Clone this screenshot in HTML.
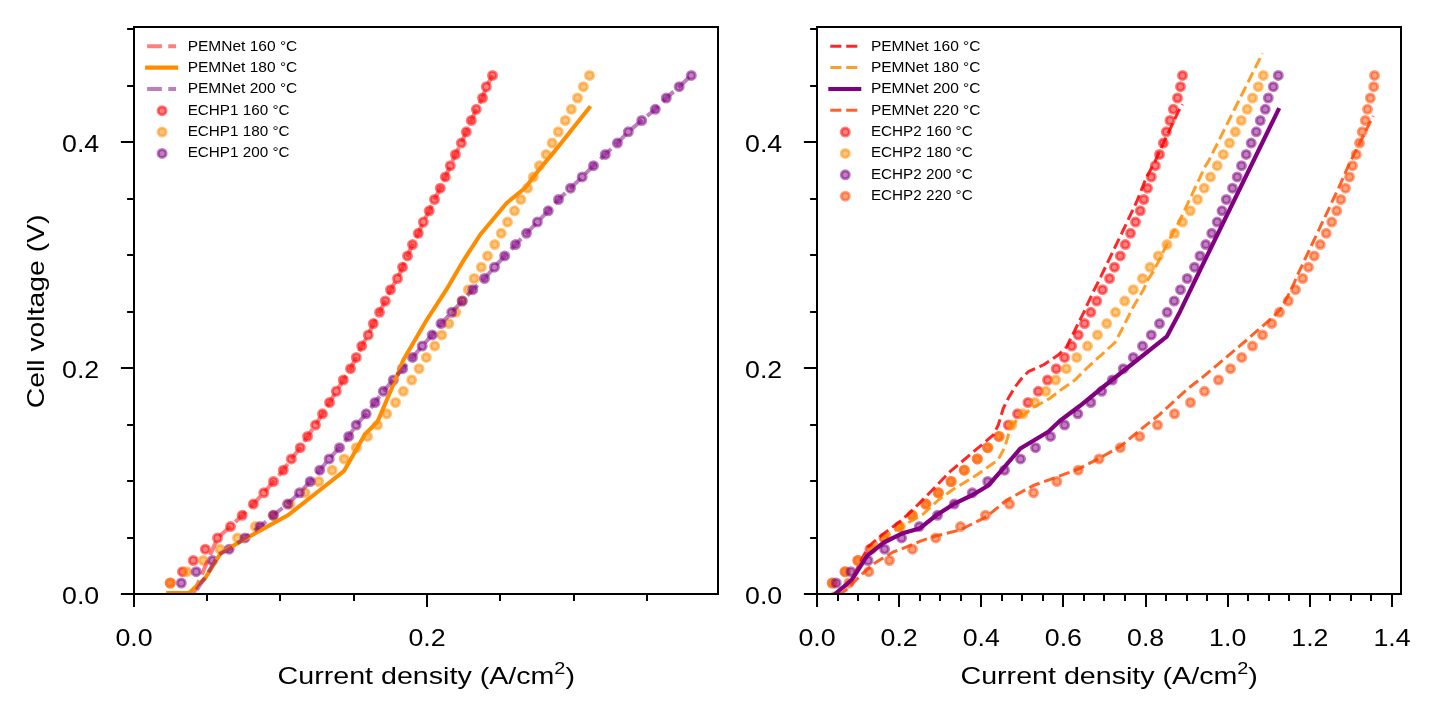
<!DOCTYPE html>
<html lang="en"><head><meta charset="utf-8"><title>Polarization curves</title>
<style>html,body{margin:0;padding:0;background:#fff;}body{width:1440px;height:720px;overflow:hidden;font-family:"Liberation Sans",sans-serif;}svg{display:block;will-change:transform;}</style></head>
<body>
<svg width="1440" height="720" viewBox="0 0 1440 720" font-family="'Liberation Sans', sans-serif" fill="#000">
<rect width="1440" height="720" fill="#fff"/>
<clipPath id="cl"><rect x="134.0" y="27" width="584.0" height="567.0"/></clipPath>
<g clip-path="url(#cl)">
<g fill="#ff0000" fill-opacity=".5" stroke="#ff0000" stroke-opacity=".5" stroke-width="3.0">
<circle cx="170.3" cy="583.0" r="4.0"/><circle cx="182.5" cy="571.7" r="4.0"/><circle cx="193.3" cy="560.5" r="4.0"/><circle cx="205.3" cy="549.2" r="4.0"/><circle cx="217.5" cy="537.9" r="4.0"/><circle cx="230.5" cy="526.6" r="4.0"/><circle cx="242.2" cy="515.3" r="4.0"/><circle cx="253.3" cy="504.1" r="4.0"/><circle cx="263.8" cy="492.8" r="4.0"/><circle cx="273.5" cy="481.5" r="4.0"/><circle cx="283.3" cy="470.2" r="4.0"/><circle cx="291.3" cy="458.9" r="4.0"/><circle cx="300.3" cy="447.7" r="4.0"/><circle cx="307.5" cy="436.4" r="4.0"/><circle cx="315.5" cy="425.1" r="4.0"/><circle cx="322.5" cy="413.8" r="4.0"/><circle cx="329.5" cy="402.5" r="4.0"/><circle cx="336.3" cy="391.3" r="4.0"/><circle cx="343.3" cy="380.0" r="4.0"/><circle cx="350.5" cy="368.7" r="4.0"/><circle cx="356.3" cy="357.4" r="4.0"/><circle cx="361.7" cy="346.1" r="4.0"/><circle cx="368.3" cy="334.9" r="4.0"/><circle cx="373.3" cy="323.6" r="4.0"/><circle cx="379.5" cy="312.3" r="4.0"/><circle cx="385.3" cy="301.0" r="4.0"/><circle cx="390.5" cy="289.7" r="4.0"/><circle cx="397.5" cy="278.5" r="4.0"/><circle cx="402.5" cy="267.2" r="4.0"/><circle cx="407.5" cy="255.9" r="4.0"/><circle cx="412.5" cy="244.6" r="4.0"/><circle cx="418.3" cy="233.3" r="4.0"/><circle cx="423.3" cy="222.1" r="4.0"/><circle cx="429.2" cy="210.8" r="4.0"/><circle cx="434.5" cy="199.5" r="4.0"/><circle cx="440.3" cy="188.2" r="4.0"/><circle cx="445.3" cy="176.9" r="4.0"/><circle cx="450.3" cy="165.7" r="4.0"/><circle cx="455.4" cy="154.4" r="4.0"/><circle cx="461.3" cy="143.1" r="4.0"/><circle cx="466.3" cy="131.8" r="4.0"/><circle cx="471.3" cy="120.5" r="4.0"/><circle cx="476.3" cy="109.3" r="4.0"/><circle cx="482.5" cy="98.0" r="4.0"/><circle cx="486.3" cy="86.7" r="4.0"/><circle cx="492.5" cy="75.4" r="4.0"/>
</g>
<g fill="#ff8c00" fill-opacity=".5" stroke="#ff8c00" stroke-opacity=".5" stroke-width="3.0">
<circle cx="170.3" cy="583.0" r="4.0"/><circle cx="186.7" cy="571.7" r="4.0"/><circle cx="203.3" cy="560.5" r="4.0"/><circle cx="220.0" cy="549.2" r="4.0"/><circle cx="237.5" cy="537.9" r="4.0"/><circle cx="255.3" cy="526.6" r="4.0"/><circle cx="273.3" cy="515.3" r="4.0"/><circle cx="290.0" cy="504.1" r="4.0"/><circle cx="305.0" cy="492.8" r="4.0"/><circle cx="318.7" cy="481.5" r="4.0"/><circle cx="332.2" cy="470.2" r="4.0"/><circle cx="344.2" cy="458.9" r="4.0"/><circle cx="356.3" cy="447.7" r="4.0"/><circle cx="367.5" cy="436.4" r="4.0"/><circle cx="377.5" cy="425.1" r="4.0"/><circle cx="386.7" cy="413.8" r="4.0"/><circle cx="395.5" cy="402.5" r="4.0"/><circle cx="403.3" cy="391.3" r="4.0"/><circle cx="411.7" cy="380.0" r="4.0"/><circle cx="419.0" cy="368.7" r="4.0"/><circle cx="426.3" cy="357.4" r="4.0"/><circle cx="434.7" cy="346.1" r="4.0"/><circle cx="441.7" cy="334.9" r="4.0"/><circle cx="448.8" cy="323.6" r="4.0"/><circle cx="455.8" cy="312.3" r="4.0"/><circle cx="462.2" cy="301.0" r="4.0"/><circle cx="468.3" cy="289.7" r="4.0"/><circle cx="474.2" cy="278.5" r="4.0"/><circle cx="481.3" cy="267.2" r="4.0"/><circle cx="487.5" cy="255.9" r="4.0"/><circle cx="494.7" cy="244.6" r="4.0"/><circle cx="501.2" cy="233.3" r="4.0"/><circle cx="507.5" cy="222.1" r="4.0"/><circle cx="514.5" cy="210.8" r="4.0"/><circle cx="520.8" cy="199.5" r="4.0"/><circle cx="527.5" cy="188.2" r="4.0"/><circle cx="533.3" cy="176.9" r="4.0"/><circle cx="539.4" cy="165.7" r="4.0"/><circle cx="546.2" cy="154.4" r="4.0"/><circle cx="552.2" cy="143.1" r="4.0"/><circle cx="558.3" cy="131.8" r="4.0"/><circle cx="565.3" cy="120.5" r="4.0"/><circle cx="571.3" cy="109.3" r="4.0"/><circle cx="577.5" cy="98.0" r="4.0"/><circle cx="583.3" cy="86.7" r="4.0"/><circle cx="589.5" cy="75.4" r="4.0"/>
</g>
<g fill="#800080" fill-opacity=".5" stroke="#800080" stroke-opacity=".5" stroke-width="3.0">
<circle cx="181.3" cy="583.0" r="4.0"/><circle cx="196.2" cy="571.7" r="4.0"/><circle cx="212.5" cy="560.5" r="4.0"/><circle cx="229.2" cy="549.2" r="4.0"/><circle cx="245.0" cy="537.9" r="4.0"/><circle cx="260.0" cy="526.6" r="4.0"/><circle cx="273.3" cy="515.3" r="4.0"/><circle cx="287.5" cy="504.1" r="4.0"/><circle cx="299.5" cy="492.8" r="4.0"/><circle cx="310.2" cy="481.5" r="4.0"/><circle cx="319.7" cy="470.2" r="4.0"/><circle cx="329.2" cy="458.9" r="4.0"/><circle cx="339.5" cy="447.7" r="4.0"/><circle cx="348.7" cy="436.4" r="4.0"/><circle cx="356.2" cy="425.1" r="4.0"/><circle cx="366.2" cy="413.8" r="4.0"/><circle cx="375.0" cy="402.5" r="4.0"/><circle cx="383.3" cy="391.3" r="4.0"/><circle cx="393.3" cy="380.0" r="4.0"/><circle cx="402.6" cy="368.7" r="4.0"/><circle cx="412.5" cy="357.4" r="4.0"/><circle cx="422.2" cy="346.1" r="4.0"/><circle cx="432.2" cy="334.9" r="4.0"/><circle cx="441.0" cy="323.6" r="4.0"/><circle cx="451.7" cy="312.3" r="4.0"/><circle cx="462.2" cy="301.0" r="4.0"/><circle cx="472.8" cy="289.7" r="4.0"/><circle cx="484.5" cy="278.5" r="4.0"/><circle cx="494.5" cy="267.2" r="4.0"/><circle cx="504.7" cy="255.9" r="4.0"/><circle cx="515.5" cy="244.6" r="4.0"/><circle cx="526.5" cy="233.3" r="4.0"/><circle cx="537.4" cy="222.1" r="4.0"/><circle cx="548.3" cy="210.8" r="4.0"/><circle cx="558.5" cy="199.5" r="4.0"/><circle cx="570.5" cy="188.2" r="4.0"/><circle cx="582.2" cy="176.9" r="4.0"/><circle cx="593.5" cy="165.7" r="4.0"/><circle cx="605.3" cy="154.4" r="4.0"/><circle cx="617.4" cy="143.1" r="4.0"/><circle cx="628.3" cy="131.8" r="4.0"/><circle cx="641.7" cy="120.5" r="4.0"/><circle cx="655.3" cy="109.3" r="4.0"/><circle cx="666.3" cy="98.0" r="4.0"/><circle cx="679.2" cy="86.7" r="4.0"/><circle cx="691.3" cy="75.4" r="4.0"/>
</g>
<polyline points="193.5,594.0 217.5,537.9 230.5,526.6 242.2,515.3 253.3,504.1 263.8,492.8 273.5,481.5 283.3,470.2 291.3,458.9 300.3,447.7 307.5,436.4 315.5,425.1 322.5,413.8 329.5,402.5 336.3,391.3 343.3,380.0 350.5,368.7 356.3,357.4 361.7,346.1 368.3,334.9 373.3,323.6 379.5,312.3 385.3,301.0 390.5,289.7 397.5,278.5 402.5,267.2 407.5,255.9 412.5,244.6 418.3,233.3 423.3,222.1 429.2,210.8 434.5,199.5 440.3,188.2 445.3,176.9 450.3,165.7 455.4,154.4 461.3,143.1 466.3,131.8 471.3,120.5 476.3,109.3 482.5,98.0 486.3,86.7 492.5,75.4" fill="none" stroke="#ff0000" stroke-width="4" stroke-opacity="0.5" stroke-linejoin="round" stroke-linecap="butt" stroke-dasharray="14.8 6.4"/>
<polyline points="168.3,593.0 189.0,593.0 205.0,578.5 220.8,553.0 240.0,541.7 288.3,515.0 320.0,490.0 344.2,470.8 365.0,434.2 377.5,421.7 396.7,376.7 403.3,360.0 426.7,320.0 446.7,289.2 463.3,260.8 480.0,235.0 506.7,203.0 525.0,188.0 540.0,168.5 555.0,150.8 589.2,107.8" fill="none" stroke="#ff8c00" stroke-width="4.1" stroke-opacity="1.0" stroke-linejoin="round" stroke-linecap="square"/>
<polyline points="194.0,594.0 207.5,573.5 219.0,554.5 229.2,549.2 245.0,537.9 260.0,526.6 273.3,515.3 287.5,504.1 299.5,492.8 310.2,481.5 319.7,470.2 329.2,458.9 339.5,447.7 348.7,436.4 356.2,425.1 366.2,413.8 375.0,402.5 383.3,391.3 393.3,380.0 402.6,368.7 412.5,357.4 422.2,346.1 432.2,334.9 441.0,323.6 451.7,312.3 462.2,301.0 472.8,289.7 484.5,278.5 494.5,267.2 504.7,255.9 515.5,244.6 526.5,233.3 537.4,222.1 548.3,210.8 558.5,199.5 570.5,188.2 582.2,176.9 593.5,165.7 605.3,154.4 617.4,143.1 628.3,131.8 641.7,120.5 655.3,109.3 666.3,98.0 679.2,86.7 691.3,75.4" fill="none" stroke="#800080" stroke-width="4" stroke-opacity="0.5" stroke-linejoin="round" stroke-linecap="butt" stroke-dasharray="14.8 6.4" stroke-dashoffset="16.37"/>
</g>
<g stroke="#000" stroke-width="2.0" fill="none">
<line x1="134" y1="594.0" x2="134" y2="607.0"/>
<line x1="427" y1="594.0" x2="427" y2="607.0"/>
<line x1="207" y1="594.0" x2="207" y2="600.9"/>
<line x1="280" y1="594.0" x2="280" y2="600.9"/>
<line x1="354" y1="594.0" x2="354" y2="600.9"/>
<line x1="500" y1="594.0" x2="500" y2="600.9"/>
<line x1="574" y1="594.0" x2="574" y2="600.9"/>
<line x1="647" y1="594.0" x2="647" y2="600.9"/>
<line x1="134.0" y1="594" x2="120.9" y2="594"/>
<line x1="134.0" y1="538" x2="127.1" y2="538"/>
<line x1="134.0" y1="481" x2="127.1" y2="481"/>
<line x1="134.0" y1="425" x2="127.1" y2="425"/>
<line x1="134.0" y1="368" x2="120.9" y2="368"/>
<line x1="134.0" y1="312" x2="127.1" y2="312"/>
<line x1="134.0" y1="255" x2="127.1" y2="255"/>
<line x1="134.0" y1="199" x2="127.1" y2="199"/>
<line x1="134.0" y1="142" x2="120.9" y2="142"/>
<line x1="134.0" y1="86" x2="127.1" y2="86"/>
<line x1="134.0" y1="29" x2="127.1" y2="29"/>
</g>
<rect x="134.0" y="27.0" width="584.0" height="567.0" fill="none" stroke="#000" stroke-width="2.0"/>
<text x="134.0" y="645.5" font-size="24.5" text-anchor="middle" textLength="37.2" lengthAdjust="spacingAndGlyphs">0.0</text>
<text x="427.0" y="645.5" font-size="24.5" text-anchor="middle" textLength="37.2" lengthAdjust="spacingAndGlyphs">0.2</text>
<text x="99.2" y="603.9" font-size="24.5" text-anchor="end" textLength="37.2" lengthAdjust="spacingAndGlyphs">0.0</text>
<text x="99.2" y="377.9" font-size="24.5" text-anchor="end" textLength="37.2" lengthAdjust="spacingAndGlyphs">0.2</text>
<text x="99.2" y="151.9" font-size="24.5" text-anchor="end" textLength="37.2" lengthAdjust="spacingAndGlyphs">0.4</text>
<clipPath id="cr"><rect x="817.0" y="27" width="584.0" height="567.0"/></clipPath>
<g clip-path="url(#cr)">
<g fill="#ff0000" fill-opacity=".5" stroke="#ff0000" stroke-opacity=".5" stroke-width="3.0">
<circle cx="832.3" cy="583.0" r="4.0"/><circle cx="845.0" cy="571.7" r="4.0"/><circle cx="857.8" cy="560.5" r="4.0"/><circle cx="870.0" cy="549.2" r="4.0"/><circle cx="884.0" cy="537.9" r="4.0"/><circle cx="899.0" cy="526.6" r="4.0"/><circle cx="912.0" cy="515.3" r="4.0"/><circle cx="925.8" cy="504.1" r="4.0"/><circle cx="938.3" cy="492.8" r="4.0"/><circle cx="951.0" cy="481.5" r="4.0"/><circle cx="964.2" cy="470.2" r="4.0"/><circle cx="977.2" cy="458.9" r="4.0"/><circle cx="987.5" cy="447.7" r="4.0"/><circle cx="998.8" cy="436.4" r="4.0"/><circle cx="1008.3" cy="425.1" r="4.0"/><circle cx="1017.5" cy="413.8" r="4.0"/><circle cx="1028.0" cy="402.5" r="4.0"/><circle cx="1038.3" cy="391.3" r="4.0"/><circle cx="1047.5" cy="380.0" r="4.0"/><circle cx="1056.2" cy="368.7" r="4.0"/><circle cx="1064.5" cy="357.4" r="4.0"/><circle cx="1071.7" cy="346.1" r="4.0"/><circle cx="1078.3" cy="334.9" r="4.0"/><circle cx="1084.5" cy="323.6" r="4.0"/><circle cx="1090.8" cy="312.3" r="4.0"/><circle cx="1096.7" cy="301.0" r="4.0"/><circle cx="1102.5" cy="289.7" r="4.0"/><circle cx="1109.5" cy="278.5" r="4.0"/><circle cx="1114.5" cy="267.2" r="4.0"/><circle cx="1120.3" cy="255.9" r="4.0"/><circle cx="1125.3" cy="244.6" r="4.0"/><circle cx="1130.5" cy="233.3" r="4.0"/><circle cx="1135.5" cy="222.1" r="4.0"/><circle cx="1140.3" cy="210.8" r="4.0"/><circle cx="1143.8" cy="199.5" r="4.0"/><circle cx="1147.5" cy="188.2" r="4.0"/><circle cx="1151.3" cy="176.9" r="4.0"/><circle cx="1155.3" cy="165.7" r="4.0"/><circle cx="1159.5" cy="154.4" r="4.0"/><circle cx="1163.3" cy="143.1" r="4.0"/><circle cx="1166.3" cy="131.8" r="4.0"/><circle cx="1170.0" cy="120.5" r="4.0"/><circle cx="1173.3" cy="109.3" r="4.0"/><circle cx="1177.5" cy="98.0" r="4.0"/><circle cx="1180.5" cy="86.7" r="4.0"/><circle cx="1182.5" cy="75.4" r="4.0"/>
</g>
<g fill="#ff8c00" fill-opacity=".5" stroke="#ff8c00" stroke-opacity=".5" stroke-width="3.0">
<circle cx="832.3" cy="583.0" r="4.0"/><circle cx="845.5" cy="571.7" r="4.0"/><circle cx="858.3" cy="560.5" r="4.0"/><circle cx="872.0" cy="549.2" r="4.0"/><circle cx="886.0" cy="537.9" r="4.0"/><circle cx="900.5" cy="526.6" r="4.0"/><circle cx="912.5" cy="515.3" r="4.0"/><circle cx="926.0" cy="504.1" r="4.0"/><circle cx="938.5" cy="492.8" r="4.0"/><circle cx="951.3" cy="481.5" r="4.0"/><circle cx="964.5" cy="470.2" r="4.0"/><circle cx="977.5" cy="458.9" r="4.0"/><circle cx="988.0" cy="447.7" r="4.0"/><circle cx="999.5" cy="436.4" r="4.0"/><circle cx="1011.7" cy="425.1" r="4.0"/><circle cx="1022.8" cy="413.8" r="4.0"/><circle cx="1034.7" cy="402.5" r="4.0"/><circle cx="1045.8" cy="391.3" r="4.0"/><circle cx="1055.6" cy="380.0" r="4.0"/><circle cx="1066.3" cy="368.7" r="4.0"/><circle cx="1076.7" cy="357.4" r="4.0"/><circle cx="1087.5" cy="346.1" r="4.0"/><circle cx="1097.5" cy="334.9" r="4.0"/><circle cx="1106.7" cy="323.6" r="4.0"/><circle cx="1115.5" cy="312.3" r="4.0"/><circle cx="1124.7" cy="301.0" r="4.0"/><circle cx="1133.3" cy="289.7" r="4.0"/><circle cx="1142.5" cy="278.5" r="4.0"/><circle cx="1150.0" cy="267.2" r="4.0"/><circle cx="1158.3" cy="255.9" r="4.0"/><circle cx="1167.0" cy="244.6" r="4.0"/><circle cx="1174.5" cy="233.3" r="4.0"/><circle cx="1182.5" cy="222.1" r="4.0"/><circle cx="1190.3" cy="210.8" r="4.0"/><circle cx="1197.5" cy="199.5" r="4.0"/><circle cx="1204.2" cy="188.2" r="4.0"/><circle cx="1210.5" cy="176.9" r="4.0"/><circle cx="1217.2" cy="165.7" r="4.0"/><circle cx="1223.3" cy="154.4" r="4.0"/><circle cx="1229.5" cy="143.1" r="4.0"/><circle cx="1235.3" cy="131.8" r="4.0"/><circle cx="1241.2" cy="120.5" r="4.0"/><circle cx="1247.2" cy="109.3" r="4.0"/><circle cx="1252.5" cy="98.0" r="4.0"/><circle cx="1258.3" cy="86.7" r="4.0"/><circle cx="1263.3" cy="75.4" r="4.0"/>
</g>
<g fill="#800080" fill-opacity=".5" stroke="#800080" stroke-opacity=".5" stroke-width="3.0">
<circle cx="836.2" cy="583.0" r="4.0"/><circle cx="850.9" cy="571.7" r="4.0"/><circle cx="868.0" cy="560.5" r="4.0"/><circle cx="884.6" cy="549.2" r="4.0"/><circle cx="901.6" cy="537.9" r="4.0"/><circle cx="919.3" cy="526.6" r="4.0"/><circle cx="937.5" cy="515.3" r="4.0"/><circle cx="954.2" cy="504.1" r="4.0"/><circle cx="972.3" cy="492.8" r="4.0"/><circle cx="987.7" cy="481.5" r="4.0"/><circle cx="1004.5" cy="470.2" r="4.0"/><circle cx="1020.5" cy="458.9" r="4.0"/><circle cx="1035.5" cy="447.7" r="4.0"/><circle cx="1050.5" cy="436.4" r="4.0"/><circle cx="1064.6" cy="425.1" r="4.0"/><circle cx="1077.8" cy="413.8" r="4.0"/><circle cx="1090.8" cy="402.5" r="4.0"/><circle cx="1101.7" cy="391.3" r="4.0"/><circle cx="1112.3" cy="380.0" r="4.0"/><circle cx="1123.3" cy="368.7" r="4.0"/><circle cx="1133.3" cy="357.4" r="4.0"/><circle cx="1142.5" cy="346.1" r="4.0"/><circle cx="1151.3" cy="334.9" r="4.0"/><circle cx="1159.5" cy="323.6" r="4.0"/><circle cx="1167.2" cy="312.3" r="4.0"/><circle cx="1174.2" cy="301.0" r="4.0"/><circle cx="1180.5" cy="289.7" r="4.0"/><circle cx="1187.2" cy="278.5" r="4.0"/><circle cx="1194.5" cy="267.2" r="4.0"/><circle cx="1200.0" cy="255.9" r="4.0"/><circle cx="1205.8" cy="244.6" r="4.0"/><circle cx="1211.7" cy="233.3" r="4.0"/><circle cx="1217.2" cy="222.1" r="4.0"/><circle cx="1222.0" cy="210.8" r="4.0"/><circle cx="1226.3" cy="199.5" r="4.0"/><circle cx="1232.5" cy="188.2" r="4.0"/><circle cx="1237.2" cy="176.9" r="4.0"/><circle cx="1241.5" cy="165.7" r="4.0"/><circle cx="1246.2" cy="154.4" r="4.0"/><circle cx="1251.2" cy="143.1" r="4.0"/><circle cx="1256.3" cy="131.8" r="4.0"/><circle cx="1260.3" cy="120.5" r="4.0"/><circle cx="1265.3" cy="109.3" r="4.0"/><circle cx="1268.3" cy="98.0" r="4.0"/><circle cx="1273.3" cy="86.7" r="4.0"/><circle cx="1278.3" cy="75.4" r="4.0"/>
</g>
<g fill="#ff4500" fill-opacity=".5" stroke="#ff4500" stroke-opacity=".5" stroke-width="3.0">
<circle cx="848.9" cy="583.0" r="4.0"/><circle cx="868.8" cy="571.7" r="4.0"/><circle cx="889.5" cy="560.5" r="4.0"/><circle cx="912.5" cy="549.2" r="4.0"/><circle cx="935.7" cy="537.9" r="4.0"/><circle cx="960.5" cy="526.6" r="4.0"/><circle cx="985.4" cy="515.3" r="4.0"/><circle cx="1009.5" cy="504.1" r="4.0"/><circle cx="1033.5" cy="492.8" r="4.0"/><circle cx="1056.8" cy="481.5" r="4.0"/><circle cx="1078.2" cy="470.2" r="4.0"/><circle cx="1099.0" cy="458.9" r="4.0"/><circle cx="1120.3" cy="447.7" r="4.0"/><circle cx="1139.7" cy="436.4" r="4.0"/><circle cx="1157.5" cy="425.1" r="4.0"/><circle cx="1174.5" cy="413.8" r="4.0"/><circle cx="1190.5" cy="402.5" r="4.0"/><circle cx="1204.5" cy="391.3" r="4.0"/><circle cx="1218.5" cy="380.0" r="4.0"/><circle cx="1230.5" cy="368.7" r="4.0"/><circle cx="1241.7" cy="357.4" r="4.0"/><circle cx="1252.5" cy="346.1" r="4.0"/><circle cx="1262.5" cy="334.9" r="4.0"/><circle cx="1271.7" cy="323.6" r="4.0"/><circle cx="1279.5" cy="312.3" r="4.0"/><circle cx="1288.3" cy="301.0" r="4.0"/><circle cx="1295.5" cy="289.7" r="4.0"/><circle cx="1302.7" cy="278.5" r="4.0"/><circle cx="1308.5" cy="267.2" r="4.0"/><circle cx="1314.2" cy="255.9" r="4.0"/><circle cx="1320.3" cy="244.6" r="4.0"/><circle cx="1326.2" cy="233.3" r="4.0"/><circle cx="1331.7" cy="222.1" r="4.0"/><circle cx="1336.7" cy="210.8" r="4.0"/><circle cx="1340.8" cy="199.5" r="4.0"/><circle cx="1345.5" cy="188.2" r="4.0"/><circle cx="1349.5" cy="176.9" r="4.0"/><circle cx="1352.5" cy="165.7" r="4.0"/><circle cx="1356.3" cy="154.4" r="4.0"/><circle cx="1359.5" cy="143.1" r="4.0"/><circle cx="1362.2" cy="131.8" r="4.0"/><circle cx="1365.3" cy="120.5" r="4.0"/><circle cx="1367.5" cy="109.3" r="4.0"/><circle cx="1370.3" cy="98.0" r="4.0"/><circle cx="1373.7" cy="86.7" r="4.0"/><circle cx="1374.5" cy="75.4" r="4.0"/>
</g>
<polyline points="837.0,594.0 851.0,580.5 861.5,560.0 868.3,546.7 882.8,534.4 900.6,521.0 910.0,512.5 927.5,495.0 950.0,471.7 971.7,453.3 993.3,435.0 998.3,425.0 1003.3,408.3 1008.3,398.3 1015.0,387.0 1022.0,378.0 1028.3,371.7 1043.3,365.0 1058.3,355.0 1066.7,346.7 1075.0,330.0 1083.3,313.3 1093.3,291.7 1100.8,276.7 1123.3,230.0 1136.7,201.7 1146.7,176.7 1155.0,161.7 1163.3,143.3 1178.3,111.7 1182.5,104.2" fill="none" stroke="#ff0000" stroke-width="3" stroke-opacity="0.85" stroke-linejoin="round" stroke-linecap="butt" stroke-dasharray="11.1 4.8" stroke-dashoffset="7.26"/>
<polyline points="831.3,593.2 836.5,593.2 851.0,581.0 864.5,558.0 876.0,544.0 886.0,535.6 903.9,525.4 923.3,514.0 938.3,500.0 953.3,489.2 963.3,483.3 976.7,475.0 993.3,463.3 998.0,460.0 1003.3,450.0 1005.0,446.7 1008.3,435.0 1011.0,428.0 1016.7,420.0 1033.3,407.5 1050.0,398.3 1060.0,390.5 1075.0,380.0 1086.7,368.3 1115.0,342.5 1123.3,326.7 1133.3,306.7 1143.3,290.0 1148.3,279.2 1153.3,271.7 1160.0,258.3 1170.0,238.3 1180.0,220.0 1193.3,191.7 1205.0,166.7 1208.3,161.7 1262.5,53.3" fill="none" stroke="#ff8c00" stroke-width="3" stroke-opacity="0.85" stroke-linejoin="round" stroke-linecap="butt" stroke-dasharray="11.1 4.8" stroke-dashoffset="3.54"/>
<polyline points="836.1,593.0 851.7,580.0 867.2,555.6 883.9,542.5 901.7,533.6 919.4,528.6 936.7,515.0 955.0,503.3 972.5,495.0 988.3,485.5 1003.3,468.3 1020.0,448.8 1048.3,431.7 1060.0,420.8 1080.0,405.8 1100.0,389.5 1166.7,336.7 1180.0,311.7 1195.0,280.5 1278.3,110.0" fill="none" stroke="#800080" stroke-width="4.2" stroke-opacity="1.0" stroke-linejoin="round" stroke-linecap="square"/>
<polyline points="840.0,594.0 846.0,590.0 850.6,585.6 856.0,580.0 862.8,573.3 876.0,562.2 892.8,552.2 906.0,547.2 921.7,540.6 936.7,535.8 960.0,530.0 986.7,516.7 1006.7,500.0 1033.3,485.5 1058.3,476.5 1078.3,469.2 1099.2,458.3 1120.0,446.7 1140.0,430.0 1160.0,414.2 1188.3,388.3 1201.7,378.0 1213.3,368.3 1246.7,340.0 1273.3,316.7 1280.0,310.0 1286.7,298.3 1293.3,285.0 1297.5,275.0 1311.7,245.0 1326.7,213.3 1340.0,185.0 1348.3,166.0 1360.0,142.5 1373.3,115.8" fill="none" stroke="#ff4500" stroke-width="3" stroke-opacity="0.85" stroke-linejoin="round" stroke-linecap="butt" stroke-dasharray="11.1 4.8" stroke-dashoffset="2.20"/>
</g>
<g stroke="#000" stroke-width="2.0" fill="none">
<line x1="817" y1="594.0" x2="817" y2="607.0"/>
<line x1="899" y1="594.0" x2="899" y2="607.0"/>
<line x1="981" y1="594.0" x2="981" y2="607.0"/>
<line x1="1063" y1="594.0" x2="1063" y2="607.0"/>
<line x1="1146" y1="594.0" x2="1146" y2="607.0"/>
<line x1="1228" y1="594.0" x2="1228" y2="607.0"/>
<line x1="1310" y1="594.0" x2="1310" y2="607.0"/>
<line x1="1392" y1="594.0" x2="1392" y2="607.0"/>
<line x1="838" y1="594.0" x2="838" y2="600.9"/>
<line x1="858" y1="594.0" x2="858" y2="600.9"/>
<line x1="879" y1="594.0" x2="879" y2="600.9"/>
<line x1="920" y1="594.0" x2="920" y2="600.9"/>
<line x1="940" y1="594.0" x2="940" y2="600.9"/>
<line x1="961" y1="594.0" x2="961" y2="600.9"/>
<line x1="1002" y1="594.0" x2="1002" y2="600.9"/>
<line x1="1022" y1="594.0" x2="1022" y2="600.9"/>
<line x1="1043" y1="594.0" x2="1043" y2="600.9"/>
<line x1="1084" y1="594.0" x2="1084" y2="600.9"/>
<line x1="1104" y1="594.0" x2="1104" y2="600.9"/>
<line x1="1125" y1="594.0" x2="1125" y2="600.9"/>
<line x1="1166" y1="594.0" x2="1166" y2="600.9"/>
<line x1="1187" y1="594.0" x2="1187" y2="600.9"/>
<line x1="1207" y1="594.0" x2="1207" y2="600.9"/>
<line x1="1248" y1="594.0" x2="1248" y2="600.9"/>
<line x1="1269" y1="594.0" x2="1269" y2="600.9"/>
<line x1="1289" y1="594.0" x2="1289" y2="600.9"/>
<line x1="1330" y1="594.0" x2="1330" y2="600.9"/>
<line x1="1351" y1="594.0" x2="1351" y2="600.9"/>
<line x1="1371" y1="594.0" x2="1371" y2="600.9"/>
<line x1="817.0" y1="594" x2="803.9" y2="594"/>
<line x1="817.0" y1="538" x2="810.1" y2="538"/>
<line x1="817.0" y1="481" x2="810.1" y2="481"/>
<line x1="817.0" y1="425" x2="810.1" y2="425"/>
<line x1="817.0" y1="368" x2="803.9" y2="368"/>
<line x1="817.0" y1="312" x2="810.1" y2="312"/>
<line x1="817.0" y1="255" x2="810.1" y2="255"/>
<line x1="817.0" y1="199" x2="810.1" y2="199"/>
<line x1="817.0" y1="142" x2="803.9" y2="142"/>
<line x1="817.0" y1="86" x2="810.1" y2="86"/>
<line x1="817.0" y1="29" x2="810.1" y2="29"/>
</g>
<rect x="817.0" y="27.0" width="584.0" height="567.0" fill="none" stroke="#000" stroke-width="2.0"/>
<text x="817.0" y="645.5" font-size="24.5" text-anchor="middle" textLength="37.2" lengthAdjust="spacingAndGlyphs">0.0</text>
<text x="899.1" y="645.5" font-size="24.5" text-anchor="middle" textLength="37.2" lengthAdjust="spacingAndGlyphs">0.2</text>
<text x="981.3" y="645.5" font-size="24.5" text-anchor="middle" textLength="37.2" lengthAdjust="spacingAndGlyphs">0.4</text>
<text x="1063.4" y="645.5" font-size="24.5" text-anchor="middle" textLength="37.2" lengthAdjust="spacingAndGlyphs">0.6</text>
<text x="1145.6" y="645.5" font-size="24.5" text-anchor="middle" textLength="37.2" lengthAdjust="spacingAndGlyphs">0.8</text>
<text x="1227.7" y="645.5" font-size="24.5" text-anchor="middle" textLength="37.2" lengthAdjust="spacingAndGlyphs">1.0</text>
<text x="1309.9" y="645.5" font-size="24.5" text-anchor="middle" textLength="37.2" lengthAdjust="spacingAndGlyphs">1.2</text>
<text x="1392.0" y="645.5" font-size="24.5" text-anchor="middle" textLength="37.2" lengthAdjust="spacingAndGlyphs">1.4</text>
<text x="782.2" y="603.9" font-size="24.5" text-anchor="end" textLength="37.2" lengthAdjust="spacingAndGlyphs">0.0</text>
<text x="782.2" y="377.9" font-size="24.5" text-anchor="end" textLength="37.2" lengthAdjust="spacingAndGlyphs">0.2</text>
<text x="782.2" y="151.9" font-size="24.5" text-anchor="end" textLength="37.2" lengthAdjust="spacingAndGlyphs">0.4</text>
<text x="277.6" y="683.8" font-size="24.5" textLength="297.4" lengthAdjust="spacingAndGlyphs">Current density (A/cm<tspan font-size="17" dy="-9.5">2</tspan><tspan dy="9.5">)</tspan></text>
<text x="960.5" y="683.8" font-size="24.5" textLength="297.4" lengthAdjust="spacingAndGlyphs">Current density (A/cm<tspan font-size="17" dy="-9.5">2</tspan><tspan dy="9.5">)</tspan></text>
<text transform="translate(44,408.2) rotate(-90)" font-size="24.5" textLength="193.6" lengthAdjust="spacingAndGlyphs">Cell voltage (V)</text>
<line x1="147.1" y1="46.2" x2="176.1" y2="46.2" stroke="#ff0000" stroke-opacity=".5" stroke-width="4" stroke-dasharray="14.8 6.4"/>
<text x="187.7" y="50.5" font-size="14.6" textLength="109.6" lengthAdjust="spacingAndGlyphs">PEMNet 160 °C</text>
<line x1="145.1" y1="67.58" x2="178.1" y2="67.58" stroke="#ff8c00" stroke-width="4.1"/>
<text x="187.7" y="71.9" font-size="14.6" textLength="109.6" lengthAdjust="spacingAndGlyphs">PEMNet 180 °C</text>
<line x1="147.1" y1="88.96" x2="176.1" y2="88.96" stroke="#800080" stroke-opacity=".5" stroke-width="4" stroke-dasharray="14.8 6.4"/>
<text x="187.7" y="93.3" font-size="14.6" textLength="109.6" lengthAdjust="spacingAndGlyphs">PEMNet 200 °C</text>
<circle cx="162.1" cy="110.63999999999999" r="4.0" fill="#ff0000" fill-opacity=".5" stroke="#ff0000" stroke-opacity=".5" stroke-width="3.0"/>
<text x="187.7" y="114.6" font-size="14.6" textLength="101.8" lengthAdjust="spacingAndGlyphs">ECHP1 160 °C</text>
<circle cx="162.1" cy="132.02" r="4.0" fill="#ff8c00" fill-opacity=".5" stroke="#ff8c00" stroke-opacity=".5" stroke-width="3.0"/>
<text x="187.7" y="136.0" font-size="14.6" textLength="101.8" lengthAdjust="spacingAndGlyphs">ECHP1 180 °C</text>
<circle cx="162.1" cy="153.4" r="4.0" fill="#800080" fill-opacity=".5" stroke="#800080" stroke-opacity=".5" stroke-width="3.0"/>
<text x="187.7" y="157.4" font-size="14.6" textLength="101.8" lengthAdjust="spacingAndGlyphs">ECHP1 200 °C</text>
<line x1="830.3" y1="46.2" x2="859.3" y2="46.2" stroke="#ff0000" stroke-opacity=".85" stroke-width="3" stroke-dasharray="11.1 4.8"/>
<text x="870.9" y="50.5" font-size="14.6" textLength="109.6" lengthAdjust="spacingAndGlyphs">PEMNet 160 °C</text>
<line x1="830.3" y1="67.58" x2="859.3" y2="67.58" stroke="#ff8c00" stroke-opacity=".85" stroke-width="3" stroke-dasharray="11.1 4.8"/>
<text x="870.9" y="71.9" font-size="14.6" textLength="109.6" lengthAdjust="spacingAndGlyphs">PEMNet 180 °C</text>
<line x1="828.3" y1="88.96" x2="861.3" y2="88.96" stroke="#800080" stroke-width="4.1"/>
<text x="870.9" y="93.3" font-size="14.6" textLength="109.6" lengthAdjust="spacingAndGlyphs">PEMNet 200 °C</text>
<line x1="830.3" y1="110.33999999999999" x2="859.3" y2="110.33999999999999" stroke="#ff4500" stroke-opacity=".85" stroke-width="3" stroke-dasharray="11.1 4.8"/>
<text x="870.9" y="114.6" font-size="14.6" textLength="109.6" lengthAdjust="spacingAndGlyphs">PEMNet 220 °C</text>
<circle cx="845.3" cy="132.02" r="4.0" fill="#ff0000" fill-opacity=".5" stroke="#ff0000" stroke-opacity=".5" stroke-width="3.0"/>
<text x="870.9" y="136.0" font-size="14.6" textLength="101.8" lengthAdjust="spacingAndGlyphs">ECHP2 160 °C</text>
<circle cx="845.3" cy="153.4" r="4.0" fill="#ff8c00" fill-opacity=".5" stroke="#ff8c00" stroke-opacity=".5" stroke-width="3.0"/>
<text x="870.9" y="157.4" font-size="14.6" textLength="101.8" lengthAdjust="spacingAndGlyphs">ECHP2 180 °C</text>
<circle cx="845.3" cy="174.78" r="4.0" fill="#800080" fill-opacity=".5" stroke="#800080" stroke-opacity=".5" stroke-width="3.0"/>
<text x="870.9" y="178.8" font-size="14.6" textLength="101.8" lengthAdjust="spacingAndGlyphs">ECHP2 200 °C</text>
<circle cx="845.3" cy="196.16" r="4.0" fill="#ff4500" fill-opacity=".5" stroke="#ff4500" stroke-opacity=".5" stroke-width="3.0"/>
<text x="870.9" y="200.2" font-size="14.6" textLength="101.8" lengthAdjust="spacingAndGlyphs">ECHP2 220 °C</text>
</svg>
</body></html>
